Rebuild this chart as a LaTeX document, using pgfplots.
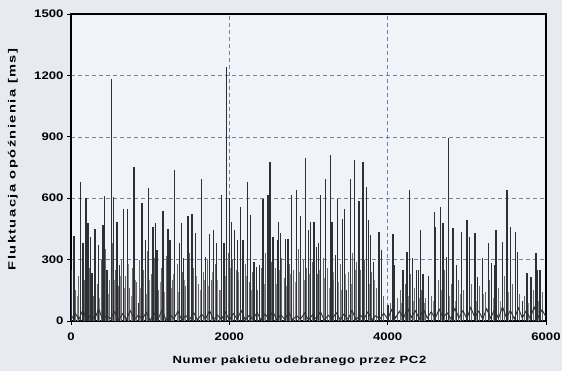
\documentclass[border=0pt]{standalone}
\usepackage{fontspec}
\setmainfont[FakeStretch=1.2]{Liberation Sans}
\newfontfamily\lblfont[FakeStretch=1.25,LetterSpace=6]{Liberation Sans}
\newfontfamily\ylblfont[FakeStretch=1.4,LetterSpace=14]{Liberation Sans}
\usepackage{pgfplots}
\pgfplotsset{compat=1.18}
\usetikzlibrary{backgrounds}
\definecolor{paper}{RGB}{231,235,241}
\definecolor{plotbg}{RGB}{240,243,248}
\definecolor{gridc}{RGB}{118,128,172}
\definecolor{spike}{RGB}{45,48,52}
\definecolor{spike2}{RGB}{105,102,102}
\definecolor{spike3}{RGB}{140,138,138}
\begin{document}
\begin{tikzpicture}
\begin{axis}[name=ax, scale only axis, width=475bp, height=307bp,
  xmin=0, xmax=6000, ymin=0, ymax=1500,
  xtick={0,2000,4000,6000}, ytick={0,300,600,900,1200,1500},
  axis line style={line width=1.3bp, black},
  axis background/.style={fill=plotbg},
  grid=major, major grid style={gridc, dash pattern=on 4bp off 3bp, line width=0.5bp},
  tick pos=left, tick align=outside, major tick length=4bp,
  tick style={black, line width=0.8bp},
  /pgf/number format/assume math mode=true,
  /pgf/number format/1000 sep={},
  ticklabel style={font=\fontsize{11}{12}\selectfont\bfseries},
  xticklabel style={yshift=-4bp},
  xlabel={Numer pakietu odebranego przez PC2},
  ylabel={Fluktuacja opóźnienia [ms]},
  xlabel style={font=\lblfont\fontsize{10.5}{12}\selectfont\bfseries, at={(axis description cs:0.5,0)}, anchor=center, yshift=-40bp, xshift=-9bp},
  ylabel style={font=\ylblfont\fontsize{10.5}{12}\selectfont\bfseries, at={(axis description cs:0,0.5)}, anchor=center, yshift=58bp, xshift=8bp},
]
\addplot[ycomb, spike3, line width=0.9bp, mark=none] coordinates {
(85,120) (160,90) (200,180) (275,150) (315,210) (365,110) (415,240) (470,130) (545,200) (590,140) (625,220) (675,160) (725,280) (760,120) (810,200) (880,160) (905,240) (950,130) (990,200) (1025,160) (1075,250) (1125,190) (1180,140) (1235,210) (1265,160) (1300,230) (1360,140) (1430,200) (1465,250) (1520,160) (1590,220) (1630,150) (1685,200) (1735,170) (1785,240) (1850,200) (1890,150) (1945,220) (2015,260) (2060,160) (2110,240) (2160,190) (2215,220) (2280,150) (2320,200) (2375,230) (2440,180) (2500,240) (2545,200) (2595,180) (2635,250) (2720,170) (2770,230) (2830,190) (2890,240) (2950,200) (3015,230) (3080,180) (3140,250) (3205,210) (3260,160) (3310,240) (3380,190) (3420,150) (3470,230) (3540,180) (3595,250) (3650,200) (3700,230) (3770,180) (3830,200) (3900,140) (4080,70) (4180,90) (4260,120) (4320,100) (4400,110) (4460,90) (4580,100) (4680,150) (4780,120) (4850,100) (4920,130) (5010,110) (5120,100) (5210,130) (5330,110) (5430,100) (5530,140) (5620,120) (5780,90) (5900,100)
};
\addplot[ycomb, spike2, line width=0.9bp, mark=none] coordinates {
(60,150) (100,220) (140,310) (170,200) (230,260) (285,120) (330,180) (380,300) (430,350) (480,200) (520,380) (560,250) (600,170) (640,300) (690,220) (740,160) (770,260) (830,190) (870,300) (920,250) (960,340) (1010,230) (1050,310) (1110,150) (1140,260) (1200,320) (1280,200) (1340,280) (1410,240) (1450,170) (1500,330) (1550,260) (1610,180) (1670,240) (1720,300) (1770,200) (1820,280) (1870,150) (1920,260) (1985,330) (2045,300) (2085,250) (2120,200) (2200,280) (2250,190) (2290,240) (2360,150) (2410,260) (2460,330) (2530,290) (2580,260) (2660,310) (2690,210) (2760,280) (2810,250) (2870,350) (2930,300) (2980,260) (3050,290) (3110,230) (3190,310) (3240,260) (3320,200) (3400,280) (3450,330) (3510,240) (3560,330) (3610,290) (3660,250) (3710,300) (3800,240) (3860,160) (3950,120) (4030,90) (4120,110) (4160,150) (4220,180) (4290,230) (4340,160) (4430,150) (4480,110) (4550,120) (4640,200) (4720,250) (4800,180) (4890,200) (4960,150) (5060,180) (5160,170) (5240,140) (5290,200) (5400,160) (5480,220) (5580,180) (5670,130) (5730,120) (5840,150) (5960,140)
};
\addplot[spike, line width=0.9bp] coordinates {
(0,5) (50,40) (100,8) (150,55) (200,3) (250,30) (300,10) (350,60) (400,5) (450,25) (500,12) (550,45) (600,4) (650,35) (700,9) (750,50) (800,6) (850,28) (900,10) (950,42) (1000,3) (1050,38) (1100,8) (1150,55) (1200,5) (1250,30) (1300,11) (1350,48) (1400,4) (1450,26) (1500,9) (1550,40) (1600,6) (1650,33) (1700,10) (1750,52) (1800,5) (1850,29) (1900,8) (1950,44) (2000,4) (2050,36) (2100,10) (2150,50) (2200,6) (2250,27) (2300,9) (2350,41) (2400,5) (2450,34) (2500,11) (2550,47) (2600,3) (2650,31) (2700,8) (2750,43) (2800,6) (2850,25) (2900,10) (2950,39) (3000,5) (3050,30) (3100,9) (3150,46) (3200,4) (3250,28) (3300,10) (3350,40) (3400,6) (3450,35) (3500,8) (3550,52) (3600,5) (3650,30) (3700,11) (3750,44) (3800,6) (3850,26) (3900,9) (3950,38) (4000,10) (4050,55) (4100,15) (4150,48) (4200,12) (4250,65) (4300,18) (4350,50) (4400,10) (4450,60) (4500,14) (4550,45) (4600,12) (4650,58) (4700,16) (4750,40) (4800,10) (4850,62) (4900,15) (4950,50) (5000,12) (5050,66) (5100,18) (5150,48) (5200,10) (5250,60) (5300,14) (5350,55) (5400,12) (5450,70) (5500,16) (5550,52) (5600,10) (5650,64) (5700,15) (5750,50) (5800,12) (5850,68) (5900,18) (5950,55) (6000,20)
};
\addplot[ycomb, spike, line width=1.1bp, mark=none] coordinates {
(10,250) (38,415) (123,680) (152,380) (189,600) (215,478) (249,410) (265,234) (303,449) (350,370) (404,468) (426,610) (455,249) (509,1180) (539,606) (581,484) (615,273) (666,545) (711,545) (787,436) (796,753) (855,90) (897,577) (939,395) (979,649) (1036,460) (1065,478) (1086,346) (1162,536) (1225,449) (1251,395) (1310,737) (1373,380) (1393,478) (1424,307) (1478,514) (1528,525) (1575,431) (1646,696) (1696,314) (1747,424) (1798,447) (1835,380) (1899,615) (1933,380) (1962,1240) (2002,600) (2025,484) (2068,444) (2101,395) (2144,558) (2173,395) (2227,680) (2270,517) (2312,289) (2341,265) (2384,273) (2425,598) (2488,615) (2514,777) (2552,411) (2606,395) (2624,484) (2644,428) (2707,403) (2741,403) (2783,615) (2846,639) (2902,512) (2965,798) (2998,444) (3028,484) (3070,484) (3099,363) (3129,380) (3154,615) (3217,696) (3281,810) (3297,484) (3339,322) (3364,598) (3432,497) (3457,545) (3478,150) (3533,696) (3584,785) (3638,585) (3688,777) (3735,655) (3760,493) (3786,420) (3819,289) (3891,436) (3920,346) (4004,80) (4067,424) (4089,273) (4194,249) (4244,338) (4278,642) (4311,306) (4362,249) (4392,249) (4412,444) (4446,229) (4518,219) (4594,533) (4606,460) (4670,555) (4699,478) (4746,314) (4771,896) (4825,452) (4867,273) (4930,436) (5002,493) (5028,411) (5103,431) (5137,216) (5200,309) (5276,379) (5314,285) (5347,273) (5369,444) (5453,387) (5507,642) (5549,460) (5612,436) (5643,338) (5706,100) (5760,236) (5811,216) (5874,330) (5895,249) (5924,249)
};
\end{axis}
\pgfresetboundingbox
\path[use as bounding box] ([xshift=-71bp,yshift=-50bp]ax.south west) rectangle ([xshift=16bp,yshift=14bp]ax.north east);
\begin{scope}[on background layer]
\fill[paper] ([xshift=-71bp,yshift=-50bp]ax.south west) rectangle ([xshift=16bp,yshift=14bp]ax.north east);
\end{scope}
\end{tikzpicture}
\end{document}
